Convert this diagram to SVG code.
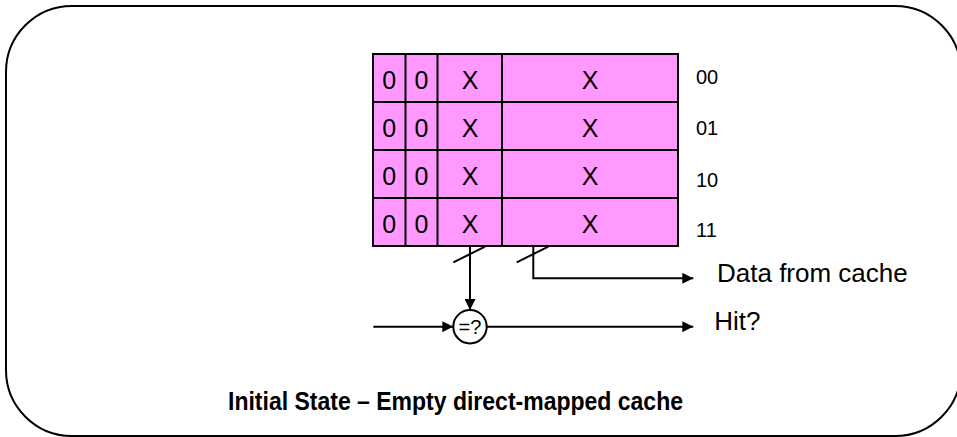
<svg xmlns="http://www.w3.org/2000/svg" width="957" height="437" viewBox="0 0 957 437">
<style>
.cell{fill:#FF99FF;stroke:#000;stroke-width:2}
.t{font-family:"Liberation Sans",Arial,sans-serif;fill:#000}
.c{font-size:25px;text-anchor:middle}
.idx{font-size:20px}
.lbl{font-size:26px}
.ln{fill:none;stroke:#000;stroke-width:2}
</style>
<defs>
<marker id="ah" markerUnits="userSpaceOnUse" markerWidth="11" markerHeight="11" refX="10" refY="5" orient="auto" viewBox="0 0 10 10">
<path d="M0,0 L10,5 L0,10 z" fill="#000"/>
</marker>
</defs>
<rect x="6" y="6" width="955" height="430" rx="66" ry="66" fill="#fff" stroke="#000" stroke-width="2"/>
<g id="cache">
<rect class="cell" x="373" y="54" width="305" height="192"/>
<line class="ln" x1="373" y1="102" x2="678" y2="102"/>
<line class="ln" x1="373" y1="150" x2="678" y2="150"/>
<line class="ln" x1="373" y1="198" x2="678" y2="198"/>
<line class="ln" x1="405.5" y1="54" x2="405.5" y2="246"/>
<line class="ln" x1="437.5" y1="54" x2="437.5" y2="246"/>
<line class="ln" x1="502" y1="54" x2="502" y2="246"/>
<g class="t c">
<text x="389.3" y="88.8">0</text><text x="421.5" y="88.8">0</text><text x="470" y="88.8">X</text><text x="590" y="88.8">X</text>
<text x="389.3" y="136.8">0</text><text x="421.5" y="136.8">0</text><text x="470" y="136.8">X</text><text x="590" y="136.8">X</text>
<text x="389.3" y="184.8">0</text><text x="421.5" y="184.8">0</text><text x="470" y="184.8">X</text><text x="590" y="184.8">X</text>
<text x="389.3" y="232.8">0</text><text x="421.5" y="232.8">0</text><text x="470" y="232.8">X</text><text x="590" y="232.8">X</text>
</g>
<g class="t idx">
<text x="696" y="84.3">00</text>
<text x="696" y="135">01</text>
<text x="696" y="186.7">10</text>
<text x="696" y="236.7">11</text>
</g>
</g>
<g id="comparator">
<circle cx="470" cy="326.7" r="16.7" fill="#fff" stroke="#000" stroke-width="2"/>
<text class="t" x="470" y="334" font-size="20" text-anchor="middle">=?</text>
</g>
<g id="connectors">
<line class="ln" x1="470" y1="246" x2="470" y2="310" marker-end="url(#ah)"/>
<line class="ln" x1="453.3" y1="262.3" x2="485" y2="246.7"/>
<path class="ln" d="M533.3,246 V278.3 H693.3" marker-end="url(#ah)"/>
<line class="ln" x1="516.7" y1="262.3" x2="548.3" y2="246.7"/>
<line class="ln" x1="373.3" y1="326.7" x2="453.3" y2="326.7" marker-end="url(#ah)"/>
<line class="ln" x1="486.7" y1="326.7" x2="693.3" y2="326.7" marker-end="url(#ah)"/>
</g>
<g id="labels">
<text class="t lbl" x="717" y="281.7">Data from cache</text>
<text class="t lbl" x="714.3" y="330">Hit?</text>
<text class="t" x="455.5" y="410" font-size="25.5" font-weight="bold" text-anchor="middle" textLength="455" lengthAdjust="spacingAndGlyphs">Initial State – Empty direct-mapped cache</text>
</g>
</svg>
